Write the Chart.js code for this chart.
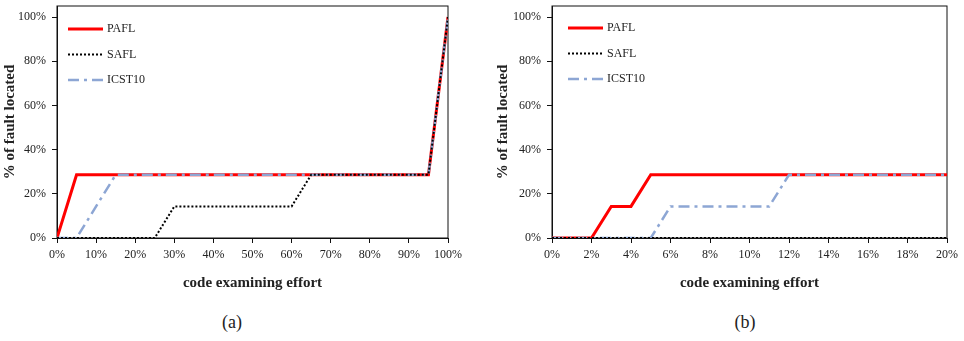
<!DOCTYPE html>
<html>
<head>
<meta charset="utf-8">
<script src="https://cdn.jsdelivr.net/npm/chart.js@4.4.1/dist/chart.umd.min.js"></script>
<style>
    html, body { margin: 0; padding: 0; background: #fff; }
    body { width: 964px; height: 341px; position: relative; overflow: hidden; }
    .box { position: absolute; top: 0; height: 300px; }
    #boxA { left: 0; width: 490px; }
    #boxB { left: 490px; width: 474px; }
    .cap { position: absolute; top: 312px; line-height: 20px; font: 18px "Liberation Serif", serif; color: #222; transform: translateX(-50%); }
</style>
</head>
<body>
<div class="box" id="boxA"><canvas id="chartA"></canvas></div>
<div class="box" id="boxB"><canvas id="chartB"></canvas></div>
<div class="cap" style="left:232px">(a)</div>
<div class="cap" style="left:745px">(b)</div>
<script>
// (a) whole effort range, values in %
const paflEffortA = [0, 5, 95, 100];
const paflFoundA  = [0, 28.6, 28.6, 100];
const saflEffortA = [0, 25, 30, 60, 65, 95, 100];
const saflFoundA  = [0, 0, 14.3, 14.3, 28.6, 28.6, 100];
const icstEffortA = [0, 5, 15, 95, 100];
const icstFoundA  = [0, 0, 28.6, 28.6, 100];

// (b) first 20% of effort
const paflEffortB = [0, 2, 3, 4, 5, 20];
const paflFoundB  = [0, 0, 14.3, 14.3, 28.6, 28.6];
const saflEffortB = [0, 20];
const saflFoundB  = [0, 0];
const icstEffortB = [0, 5, 6, 11, 12, 20];
const icstFoundB  = [0, 0, 14.3, 14.3, 28.6, 28.6];

const seriesNames = ["PAFL", "SAFL", "ICST10"];
const yTicks  = [0, 20, 40, 60, 80, 100];
const xTicksA = [0, 10, 20, 30, 40, 50, 60, 70, 80, 90, 100];
const xTicksB = [0, 2, 4, 6, 8, 10, 12, 14, 16, 18, 20];

const serif = "'Liberation Serif', 'Times New Roman', serif";
const textColor = "#222";

// frame round the plot area
const framePlugin = {
    id: "frame",
    beforeDatasetsDraw(chart) {
        const { ctx, chartArea: a } = chart;
        ctx.save();
        ctx.strokeStyle = "#111";
        ctx.lineWidth = 1;
        ctx.strokeRect(a.left, a.top, a.right - a.left, a.bottom - a.top);
        ctx.restore();
    }
};

// legend drawn inside the plot, top left
const insideLegend = {
    id: "insideLegend",
    afterDatasetsDraw(chart, args, opts) {
        const { ctx, chartArea } = chart;
        const x0 = chartArea.left + opts.x;
        chart.data.datasets.forEach((ds, i) => {
            const y = chartArea.top + opts.y + i * opts.gap;
            ctx.save();
            ctx.strokeStyle = ds.borderColor;
            ctx.lineWidth = ds.borderWidth;
            ctx.setLineDash(ds.borderDash || []);
            ctx.beginPath();
            ctx.moveTo(x0, y);
            ctx.lineTo(x0 + 35, y);
            ctx.stroke();
            ctx.setLineDash([]);
            ctx.fillStyle = textColor;
            ctx.font = "12px " + serif;
            ctx.textBaseline = "middle";
            ctx.fillText(ds.label, x0 + 39, y);
            ctx.restore();
        });
    }
};

function points(xs, ys) {
    return xs.map((x, i) => ({ x: x, y: ys[i] }));
}

// scale paddings off, so layout.padding alone places the plot area
function noScalePad(s) {
    s.paddingTop = 0;
    s.paddingBottom = 0;
    s.paddingLeft = 0;
    s.paddingRight = 0;
}

function makeChart(id, series, xTicks, xMax, yAxisWidth, yTitlePad, rightPad, legendPos) {
    const styles = [
        { borderColor: "#ff0000", borderWidth: 3, borderDash: [], order: 2 },
        { borderColor: "#000000", borderWidth: 2, borderDash: [2, 2], order: 0 },
        { borderColor: "#8da6d4", borderWidth: 2.5, borderDash: [11, 5, 3, 5], order: 1 }
    ];
    const datasets = series.map((s, i) => Object.assign({
        label: seriesNames[i],
        data: points(s[0], s[1]),
        fill: false,
        tension: 0,
        pointRadius: 0,
        borderCapStyle: "butt"
    }, styles[i]));

    return new Chart(document.getElementById(id), {
        type: "line",
        data: { datasets: datasets },
        plugins: [framePlugin, insideLegend],
        options: {
            responsive: true,
            maintainAspectRatio: false,
            animation: false,
            layout: { padding: { top: 6, bottom: 3.6, left: 0, right: rightPad } },
            plugins: {
                legend: { display: false },
                tooltip: { enabled: false },
                insideLegend: legendPos
            },
            scales: {
                x: {
                    type: "linear",
                    min: 0,
                    max: xMax,
                    afterBuildTicks: s => { s.ticks = xTicks.map(v => ({ value: v })); },
                    afterFit: noScalePad,
                    ticks: {
                        callback: v => v + "%",
                        color: textColor,
                        font: { family: serif, size: 12 },
                        padding: 5,
                        maxRotation: 0
                    },
                    grid: { display: true, drawOnChartArea: false, drawTicks: true, tickLength: 5, color: "#111" },
                    border: { display: true, color: "#111" },
                    title: {
                        display: true,
                        text: "code examining effort",
                        color: textColor,
                        font: { family: serif, size: 15, weight: "bold" },
                        padding: { top: 7, bottom: 4 }
                    }
                },
                y: {
                    min: 0,
                    max: 105,
                    afterBuildTicks: s => { s.ticks = yTicks.map(v => ({ value: v })); },
                    afterFit: s => { noScalePad(s); s.width = yAxisWidth; },
                    ticks: {
                        callback: v => v + "%",
                        color: textColor,
                        font: { family: serif, size: 12 },
                        padding: 6
                    },
                    grid: { display: true, drawOnChartArea: false, drawTicks: true, tickLength: 5, color: "#111" },
                    border: { display: true, color: "#111" },
                    title: {
                        display: true,
                        text: "% of fault located",
                        color: textColor,
                        font: { family: serif, size: 15, weight: "bold" },
                        padding: { top: yTitlePad, bottom: 2 }
                    }
                }
            }
        }
    });
}

makeChart("chartA",
    [[paflEffortA, paflFoundA], [saflEffortA, saflFoundA], [icstEffortA, icstFoundA]],
    xTicksA, 100, 57, 1, 42, { x: 11, y: 23, gap: 25.5 });

makeChart("chartB",
    [[paflEffortB, paflFoundB], [saflEffortB, saflFoundB], [icstEffortB, icstFoundB]],
    xTicksB, 20, 62, 4, 17, { x: 16, y: 22, gap: 25.5 });
</script>
</body>
</html>
